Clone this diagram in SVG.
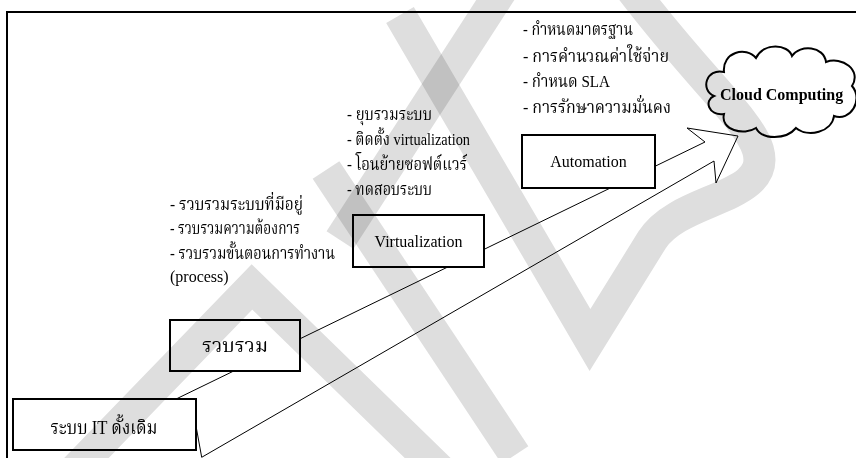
<svg xmlns="http://www.w3.org/2000/svg" width="856" height="458" viewBox="0 0 856 458">
<style>
.frame{fill:none;stroke:#000;stroke-width:2}
.box{fill:#fff;stroke:#000;stroke-width:2}
.conn{fill:#fff;stroke:#000;stroke-width:1;stroke-linejoin:miter}
.cloud{fill:#fff;stroke:#000;stroke-width:2}
.th{font-family:'Liberation Serif','Noto Serif Thai','Noto Sans Thai','Tlwg Typo','Loma',serif;font-size:17px;fill:#000}
.lat{font-family:'Liberation Serif','Times New Roman',serif;font-size:16px;fill:#000}
.bx{font-size:19px}
.bold{font-weight:bold}
.wm{fill:none;stroke:#dedede;stroke-width:32;stroke-linejoin:miter;stroke-linecap:butt;mix-blend-mode:multiply}
</style>
<rect width="856" height="458" fill="#fff"/>
<rect class="frame" x="7" y="12" width="900" height="500"/>
<g id="connectors">
<polygon class="conn" points="172,401 705,142 687,128 738,136 716,183 714,161 201.7,457.3 194,415"/>
</g>
<g id="node-legacy">
<rect class="box" x="13" y="399" width="183" height="51"/>
<text class="th bx" x="104" y="434" text-anchor="middle" textLength="107" lengthAdjust="spacingAndGlyphs">ระบบ IT ดั้งเดิม</text>
</g>
<g id="node-consolidate">
<rect class="box" x="170" y="320" width="130" height="51"/>
<text class="th bx" x="235" y="352" text-anchor="middle" textLength="66" lengthAdjust="spacingAndGlyphs">รวบรวม</text>
<text class="th" x="170" y="210" textLength="133" lengthAdjust="spacingAndGlyphs">- รวบรวมระบบที่มีอยู่</text>
<text class="th" x="170" y="234" textLength="130" lengthAdjust="spacingAndGlyphs">- รวบรวมความต้องการ</text>
<text class="th" x="170" y="259" textLength="165" lengthAdjust="spacingAndGlyphs">- รวบรวมขั้นตอนการทำงาน</text>
<text class="lat" x="170" y="282">(process)</text>
</g>
<g id="node-virtualization">
<rect class="box" x="353" y="215" width="131" height="52"/>
<text class="lat" x="418.5" y="247" text-anchor="middle">Virtualization</text>
<text class="th" x="347" y="120" textLength="85" lengthAdjust="spacingAndGlyphs">- ยุบรวมระบบ</text>
<text class="th" x="347" y="145" textLength="123" lengthAdjust="spacingAndGlyphs">- ติดตั้ง virtualization</text>
<text class="th" x="347" y="170" textLength="120" lengthAdjust="spacingAndGlyphs">- โอนย้ายซอฟต์แวร์</text>
<text class="th" x="347" y="195" textLength="85" lengthAdjust="spacingAndGlyphs">- ทดสอบระบบ</text>
</g>
<g id="node-automation">
<rect class="box" x="522" y="135" width="133" height="53"/>
<text class="lat" x="588.5" y="167" text-anchor="middle">Automation</text>
<text class="th" x="523" y="35" textLength="110" lengthAdjust="spacingAndGlyphs">- กำหนดมาตรฐาน</text>
<text class="th" x="523" y="62" textLength="146" lengthAdjust="spacingAndGlyphs">- การคำนวณค่าใช้จ่าย</text>
<text class="th" x="523" y="87" textLength="87" lengthAdjust="spacingAndGlyphs">- กำหนด SLA</text>
<text class="th" x="523" y="113" textLength="148" lengthAdjust="spacingAndGlyphs">- การรักษาความมั่นคง</text>
</g>
<g id="node-cloud">
<path class="cloud" d="M714,96 C700,90 706,68 724,72 C722,52 746,46 756,58 C764,42 788,44 792,56 C800,44 824,46 826,62 C842,56 862,70 852,86 C864,100 850,122 834,116 C832,132 808,138 796,128 C786,140 762,140 756,128 C744,136 720,130 724,114 C708,116 704,100 714,96 Z"/>
<text class="lat bold" x="720" y="100">Cloud Computing</text>
</g>
<g id="watermark">
<path class="wm" d="M70,475 L252,287 L440,470"/>
<path class="wm" d="M326,170 L515,455"/>
<path class="wm" d="M505,-15 L340,240"/>
<path class="wm" d="M400,15 L590,340 L652,240 C680,196 772,200 758,150 C748,118 700,80 628,-15"/>
</g>
</svg>
